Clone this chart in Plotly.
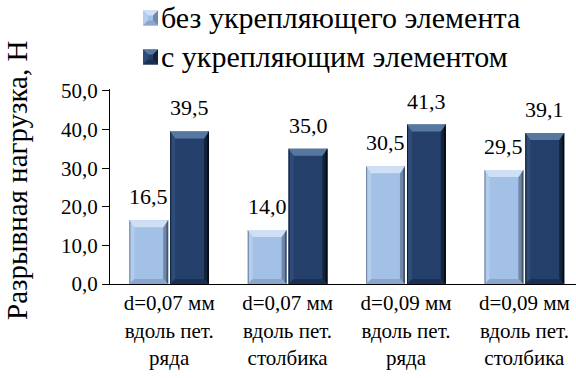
import plotly.graph_objects as go

# ---- data -------------------------------------------------------------
categories = [
    "d=0,07 мм<br>вдоль пет.<br>ряда",
    "d=0,07 мм<br>вдоль пет.<br>столбика",
    "d=0,09 мм<br>вдоль пет.<br>ряда",
    "d=0,09 мм<br>вдоль пет.<br>столбика",
]
series_names = ["без укрепляющего элемента", "с укрепляющим элементом"]
without_element = [16.5, 14.0, 30.5, 29.5]
with_element = [39.5, 35.0, 41.3, 39.1]
y_ticks = [0, 10, 20, 30, 40, 50]

# ---- layout constants -------------------------------------------------
W, H = 576, 378
ML, MR, MT, MB = 110, 0, 89, 94
Y_MAX = 50.5
X_RANGE = [-0.5, 3.436]
BARGAP, GROUPGAP = 0.31, 0.05
FONT = "Tinos, Liberation Serif, serif"

plot_w = W - ML - MR
plot_h = H - MT - MB
px_per_x = plot_w / (X_RANGE[1] - X_RANGE[0])
px_per_y = plot_h / Y_MAX

slot = (1 - BARGAP) / 2
bar_w = slot * (1 - GROUPGAP)
offsets = [-slot / 2, slot / 2]

palettes = [
    dict(face="#A3C1E6", top="#CFE0F6", left="#B5CDEC", right="#7089AA",
         edge="#46566F", bottom="#8AA6CA", line="#6A7F9C"),
    dict(face="#24406A", top="#56779F", left="#2E4C77", right="#12233B",
         edge="#060C16", bottom="#1A3052", line="#101E33"),
]

fig = go.Figure()
x_idx = list(range(len(categories)))
for name, vals, pal in zip(series_names, [without_element, with_element], palettes):
    fig.add_trace(go.Bar(
        x=x_idx, y=vals, name=name, showlegend=False,
        marker=dict(color=pal["face"], line=dict(width=0)),
        hoverinfo="skip",
    ))

shapes = []


def poly(pts, color, xref="x", yref="y"):
    d = "M " + " L ".join(f"{x},{y}" for x, y in pts) + " Z"
    shapes.append(dict(type="path", path=d, xref=xref, yref=yref,
                       fillcolor=color, line=dict(width=0), layer="above"))


# bevel shading on each bar, derived from the bar's value
dx = 5 / px_per_x
dyt = 7 / px_per_y
dyb = 5 / px_per_y
edge_w = 1.8 / px_per_x
line_w = 1.0 / px_per_x
annotations = []
for s, (vals, pal) in enumerate(zip([without_element, with_element], palettes)):
    for i, v in enumerate(vals):
        xc = i + offsets[s]
        x0, x1 = xc - bar_w / 2, xc + bar_w / 2
        y0, y1 = 0, v
        poly([(x0, y0), (x0, y1), (x0 + dx, y1 - dyt), (x0 + dx, y0 + dyb)], pal["left"])
        poly([(x0, y0), (x0 + line_w, y0), (x0 + line_w, y1), (x0, y1)], pal["line"])
        poly([(x1, y0), (x1, y1), (x1 - dx, y1 - dyt), (x1 - dx, y0 + dyb)], pal["right"])
        poly([(x1 - edge_w, y0), (x1, y0), (x1, y1), (x1 - edge_w, y1)], pal["edge"])
        poly([(x0, y1), (x1, y1), (x1 - dx, y1 - dyt), (x0 + dx, y1 - dyt)], pal["top"])
        poly([(x0, y0), (x1, y0), (x1 - dx, y0 + dyb), (x0 + dx, y0 + dyb)], pal["bottom"])
        annotations.append(dict(
            x=xc, y=v, xref="x", yref="y", text=f"{v:.1f}".replace(".", ","),
            showarrow=False, yanchor="bottom", yshift=9,
            font=dict(family=FONT, size=22, color="#000000"),
        ))


# pixel -> paper helpers for the legend and axis title
def px2x(px):
    return (px - ML) / plot_w


def py2y(py):
    return (H - MB - py) / plot_h


# hand-drawn legend with bevelled swatches
legend_rows = [18, 57]
sw = 15
for name, pal, cy in zip(series_names, palettes, legend_rows):
    lx0, lx1 = 143, 143 + sw
    ty, by = cy - sw / 2, cy + sw / 2
    b = 5
    pts = lambda p: [(px2x(a), py2y(c)) for a, c in p]
    poly(pts([(lx0, ty), (lx1, ty), (lx1, by), (lx0, by)]), pal["face"], "paper", "paper")
    poly(pts([(lx0, ty), (lx1, ty), (lx1 - b, ty + b), (lx0 + b, ty + b)]), pal["top"], "paper", "paper")
    poly(pts([(lx0, ty), (lx0 + b, ty + b), (lx0 + b, by - b), (lx0, by)]), pal["left"], "paper", "paper")
    poly(pts([(lx1, ty), (lx1 - b, ty + b), (lx1 - b, by - b), (lx1, by)]), pal["right"], "paper", "paper")
    poly(pts([(lx0, by), (lx0 + b, by - b), (lx1 - b, by - b), (lx1, by)]), pal["bottom"], "paper", "paper")
    annotations.append(dict(
        x=px2x(lx1 + 1), y=py2y(cy), xref="paper", yref="paper", text=name,
        showarrow=False, xanchor="left", yanchor="middle",
        font=dict(family=FONT, size=30, color="#000000"),
    ))

annotations.append(dict(
    x=px2x(17), y=py2y(181), xref="paper", yref="paper",
    text="Разрывная нагрузка, Н", textangle=-90, showarrow=False,
    xanchor="center", yanchor="middle",
    font=dict(family=FONT, size=29, color="#000000"),
))

fig.update_layout(
    width=W, height=H,
    margin=dict(l=ML, r=MR, t=MT, b=MB, pad=0),
    paper_bgcolor="#FFFFFF", plot_bgcolor="#FFFFFF",
    barmode="group", bargap=BARGAP, bargroupgap=GROUPGAP,
    separators=", ",
    font=dict(family=FONT, color="#000000"),
    shapes=shapes, annotations=annotations,
    showlegend=False,
)
fig.update_xaxes(
    range=X_RANGE, tickvals=x_idx, ticktext=categories,
    showline=True, linecolor="#000000", linewidth=1.3,
    ticks="", showgrid=False, zeroline=False,
    tickfont=dict(family=FONT, size=21, color="#000000"),
    ticklabelstandoff=0,
)
fig.update_yaxes(
    range=[0, Y_MAX], tickvals=y_ticks, tickformat=".1f",
    showline=True, linecolor="#000000", linewidth=1.3,
    ticks="outside", ticklen=7, tickwidth=1.3, tickcolor="#000000",
    showgrid=False, zeroline=False,
    tickfont=dict(family=FONT, size=21, color="#000000"),
)

fig.write_html("out.html")
